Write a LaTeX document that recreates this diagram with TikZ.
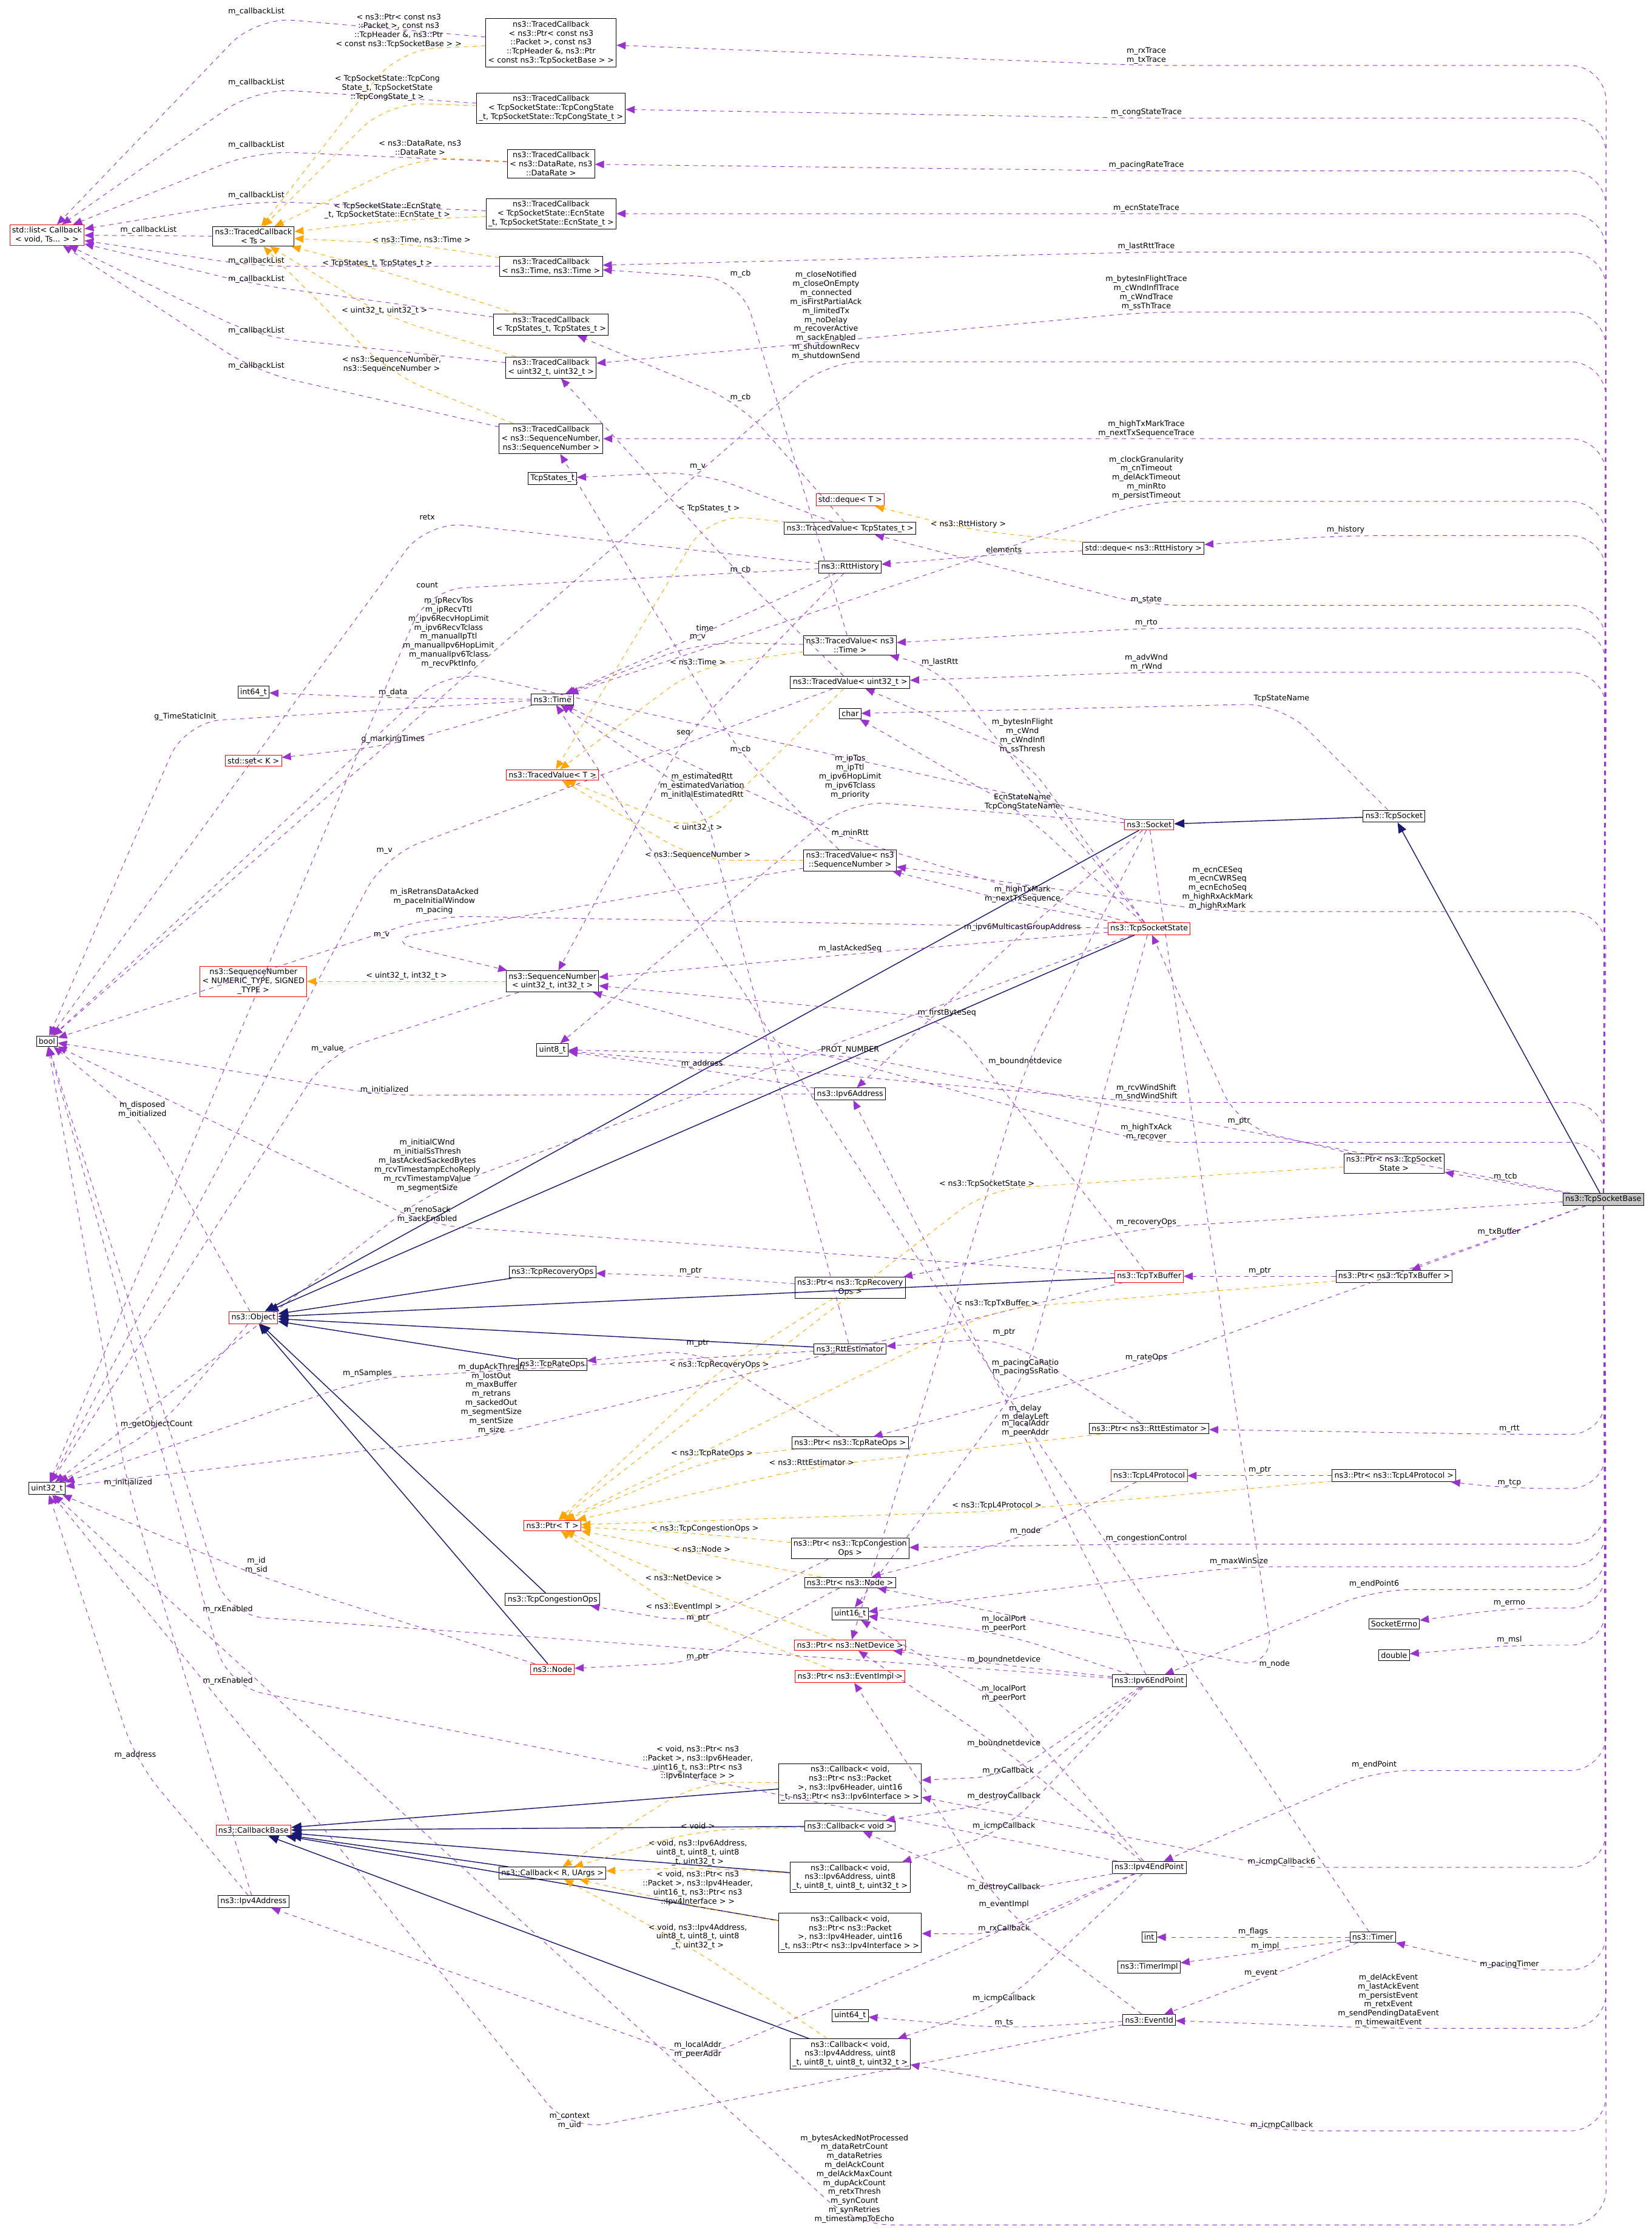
\documentclass[tikz,border=0pt]{standalone}
\usepackage{fontspec}
\setmainfont{DejaVu Sans}
\usetikzlibrary{arrows}
\definecolor{memc}{HTML}{9A32CD}
\definecolor{tplc}{HTML}{FFA500}
\definecolor{inhc}{HTML}{191970}
\tikzset{x=0.0345cm, y=-0.0345cm,
    every node/.style={font=\fontsize{5.3}{6.2}\selectfont},
    cls/.style={draw, align=center, fill=white, inner sep=1.6pt, thin},
    redcls/.style={cls, draw=red},
    main/.style={cls, fill=gray!45},
    mem/.style={draw=memc, dashed, ->, >=triangle 45, thin, rounded corners=25},
    tpl/.style={draw=tplc, dashed, ->, >=triangle 45, thin, rounded corners=25},
    inh/.style={draw=inhc, semithick, ->, >=triangle 45},
    lab/.style={align=center, inner sep=1pt, fill=none}}
% edge through a labelled bend point
\newcommand{\via}[5]{\draw[#1] (#2) -- (#4) node[lab,above] {#5} -- (#3);}
% edge from the socket, up or down its right side first
\newcommand{\fromb}[4]{\draw[mem] (base) -- (1128,#2) -- (#3,#2) node[lab,above] {#4} -- (#1);}

\begin{document}
\begin{tikzpicture}
    \useasboundingbox (0,0) rectangle (1160,1567);

    % classes
    \node[main] (base) at (1126,842) {ns3::TcpSocketBase};
    \node[cls] (tcpkt) at (387,30) {ns3::TracedCallback\\< ns3::Ptr< const ns3\\::Packet >, const ns3\\::TcpHeader \&, ns3::Ptr\\< const ns3::TcpSocketBase > >};
    \node[cls] (tccong) at (387,76) {ns3::TracedCallback\\< TcpSocketState::TcpCongState\\\_t, TcpSocketState::TcpCongState\_t >};
    \node[cls] (tcrate) at (387,115) {ns3::TracedCallback\\< ns3::DataRate, ns3\\::DataRate >};
    \node[cls] (tcecn) at (387,150) {ns3::TracedCallback\\< TcpSocketState::EcnState\\\_t, TcpSocketState::EcnState\_t >};
    \node[cls] (tctime) at (387,187) {ns3::TracedCallback\\< ns3::Time, ns3::Time >};
    \node[cls] (tcstate) at (387,228) {ns3::TracedCallback\\< TcpStates\_t, TcpStates\_t >};
    \node[cls] (tcu32) at (387,258) {ns3::TracedCallback\\< uint32\_t, uint32\_t >};
    \node[cls] (tcseq) at (387,308) {ns3::TracedCallback\\< ns3::SequenceNumber,\\ ns3::SequenceNumber >};
    \node[redcls] (cblist) at (33,165) {std::list< Callback\\< void, Ts... > >};
    \node[cls] (tcts) at (178,166) {ns3::TracedCallback\\< Ts >};
    \node[cls] (states) at (388,336) {TcpStates\_t};
    \node[redcls] (deque) at (597,351) {std::deque< T >};
    \node[cls] (tvstates) at (597,371) {ns3::TracedValue< TcpStates\_t >};
    \node[cls] (dequertt) at (803,385) {std::deque< ns3::RttHistory >};
    \node[cls] (rtthist) at (597,398) {ns3::RttHistory};
    \node[cls] (tvtime) at (597,453) {ns3::TracedValue< ns3\\::Time >};
    \node[cls] (tvu32) at (597,479) {ns3::TracedValue< uint32\_t >};
    \node[cls] (char) at (597,501) {char};
    \node[cls] (int64) at (178,486) {int64\_t};
    \node[cls] (time) at (388,491) {ns3::Time};
    \node[redcls] (set) at (178,534) {std::set< K >};
    \node[redcls] (tvt) at (388,544) {ns3::TracedValue< T >};
    \node[cls] (tvseq) at (597,604) {ns3::TracedValue< ns3\\::SequenceNumber >};
    \node[redcls] (socket) at (807,579) {ns3::Socket};
    \node[cls] (tcpsocket) at (979,573) {ns3::TcpSocket};
    \node[redcls] (tcb) at (807,652) {ns3::TcpSocketState};
    \node[redcls] (seqnt) at (178,689) {ns3::SequenceNumber\\< NUMERIC\_TYPE, SIGNED\\\_TYPE >};
    \node[cls] (seq32) at (388,689) {ns3::SequenceNumber\\< uint32\_t, int32\_t >};
    \node[cls] (bool) at (33,731) {bool};
    \node[cls] (uint8) at (388,737) {uint8\_t};
    \node[cls] (ip6addr) at (597,768) {ns3::Ipv6Address};
    \node[cls] (ptrtcb) at (979,817) {ns3::Ptr< ns3::TcpSocket\\State >};
    \node[cls] (recops) at (388,893) {ns3::TcpRecoveryOps};
    \node[cls] (ptrrec) at (597,904) {ns3::Ptr< ns3::TcpRecovery\\Ops >};
    \node[redcls] (txbuf) at (807,896) {ns3::TcpTxBuffer};
    \node[cls] (ptrtx) at (979,896) {ns3::Ptr< ns3::TcpTxBuffer >};
    \node[redcls] (object) at (178,925) {ns3::Object};
    \node[cls] (rateops) at (388,958) {ns3::TcpRateOps};
    \node[cls] (rttest) at (597,947) {ns3::RttEstimator};
    \node[cls] (ptrrtt) at (807,1003) {ns3::Ptr< ns3::RttEstimator >};
    \node[cls] (ptrrate) at (597,1013) {ns3::Ptr< ns3::TcpRateOps >};
    \node[cls] (uint32) at (33,1045) {uint32\_t};
    \node[redcls] (ptrt) at (388,1071) {ns3::Ptr< T >};
    \node[cls] (ptrl4) at (979,1036) {ns3::Ptr< ns3::TcpL4Protocol >};
    \node[redcls] (l4) at (807,1036) {ns3::TcpL4Protocol};
    \node[cls] (ptrcong) at (597,1087) {ns3::Ptr< ns3::TcpCongestion\\Ops >};
    \node[cls] (congops) at (388,1123) {ns3::TcpCongestionOps};
    \node[cls] (ptrnode) at (597,1111) {ns3::Ptr< ns3::Node >};
    \node[redcls] (node) at (388,1172) {ns3::Node};
    \node[cls] (uint16) at (597,1133) {uint16\_t};
    \node[cls] (errno) at (979,1140) {SocketErrno};
    \node[cls] (double) at (979,1162) {double};
    \node[redcls] (ptrdev) at (597,1155) {ns3::Ptr< ns3::NetDevice >};
    \node[redcls] (ptrev) at (597,1177) {ns3::Ptr< ns3::EventImpl >};
    \node[cls] (ep6) at (807,1180) {ns3::Ipv6EndPoint};
    \node[cls] (cb6pkt) at (597,1252) {ns3::Callback< void,\\ ns3::Ptr< ns3::Packet\\ >, ns3::Ipv6Header, uint16\\\_t, ns3::Ptr< ns3::Ipv6Interface > >};
    \node[cls] (cbvoid) at (597,1282) {ns3::Callback< void >};
    \node[redcls] (cbbase) at (178,1285) {ns3::CallbackBase};
    \node[cls] (cbr) at (388,1315) {ns3::Callback< R, UArgs >};
    \node[cls] (ip4addr) at (178,1335) {ns3::Ipv4Address};
    \node[cls] (cb6) at (597,1318) {ns3::Callback< void,\\ ns3::Ipv6Address, uint8\\\_t, uint8\_t, uint8\_t, uint32\_t >};
    \node[cls] (ep4) at (807,1311) {ns3::Ipv4EndPoint};
    \node[cls] (cb4pkt) at (597,1357) {ns3::Callback< void,\\ ns3::Ptr< ns3::Packet\\ >, ns3::Ipv4Header, uint16\\\_t, ns3::Ptr< ns3::Ipv4Interface > >};
    \node[cls] (int) at (807,1360) {int};
    \node[cls] (timer) at (964,1360) {ns3::Timer};
    \node[cls] (timerimpl) at (807,1381) {ns3::TimerImpl};
    \node[cls] (uint64) at (597,1415) {uint64\_t};
    \node[cls] (eventid) at (807,1418) {ns3::EventId};
    \node[cls] (cb4) at (597,1442) {ns3::Callback< void,\\ ns3::Ipv4Address, uint8\\\_t, uint8\_t, uint8\_t, uint32\_t >};

    % inheritance
    \draw[inh] (base) -- (tcpsocket);
    \draw[inh] (tcpsocket) -- (socket);
    \foreach \s in {socket,tcb,txbuf,rttest,recops,rateops,congops,node}
        \draw[inh] (\s) -- (object);
    \foreach \s in {cbr,cb6pkt,cbvoid,cb6,cb4pkt,cb4}
        \draw[inh] (\s) -- (cbbase);

    % members of the socket
    \fromb{tcpkt}{46}{805}{m\_rxTrace\\m\_txTrace}
    \fromb{tccong}{83}{805}{m\_congStateTrace}
    \fromb{tcrate}{120}{805}{m\_pacingRateTrace}
    \fromb{tcecn}{150}{805}{m\_ecnStateTrace}
    \fromb{tctime}{177}{805}{m\_lastRttTrace}
    \fromb{tcu32}{219}{805}{m\_bytesInFlightTrace\\m\_cWndInflTrace\\m\_cWndTrace\\m\_ssThTrace}
    \fromb{tcseq}{308}{805}{m\_highTxMarkTrace\\m\_nextTxSequenceTrace}
    \fromb{bool}{254}{580}{m\_closeNotified\\m\_closeOnEmpty\\m\_connected\\m\_isFirstPartialAck\\m\_limitedTx\\m\_noDelay\\m\_recoverActive\\m\_sackEnabled\\m\_shutdownRecv\\m\_shutdownSend}
    \fromb{time}{352}{805}{m\_clockGranularity\\m\_cnTimeout\\m\_delAckTimeout\\m\_minRto\\m\_persistTimeout}
    \fromb{dequertt}{376}{945}{m\_history}
    \fromb{tvstates}{425}{805}{m\_state}
    \fromb{tvtime}{441}{805}{m\_rto}
    \fromb{tvu32}{472}{805}{m\_advWnd\\m\_rWnd}
    \fromb{tvseq}{640}{855}{m\_ecnCESeq\\m\_ecnCWRSeq\\m\_ecnEchoSeq\\m\_highRxAckMark\\m\_highRxMark}
    \fromb{uint8}{774}{805}{m\_rcvWindShift\\m\_sndWindShift}
    \fromb{seq32}{802}{805}{m\_highTxAck\\m\_recover}
    \draw[mem] (base) -- node[lab,above] {m\_tcb} (ptrtcb);
    \via{mem}{base}{ptrrec}{805,862}{m\_recoveryOps}
    \draw[mem] (base) -- node[lab,above] {m\_txBuffer} (ptrtx);
    \via{mem}{base}{ptrrate}{805,957}{m\_rateOps}
    \fromb{ptrrtt}{1007}{1060}{m\_rtt}
    \fromb{ptrl4}{1045}{1060}{m\_tcp}
    \fromb{ptrcong}{1084}{805}{m\_congestionControl}
    \fromb{uint16}{1100}{870}{m\_maxWinSize}
    \fromb{ep6}{1116}{965}{m\_endPoint6}
    \fromb{errno}{1129}{1060}{m\_errno}
    \fromb{double}{1155}{1060}{m\_msl}
    \fromb{ep4}{1243}{965}{m\_endPoint}
    \fromb{cb6pkt}{1311}{900}{m\_icmpCallback6}
    \fromb{timer}{1383}{1060}{m\_pacingTimer}
    \fromb{eventid}{1424}{975}{m\_delAckEvent\\m\_lastAckEvent\\m\_persistEvent\\m\_retxEvent\\m\_sendPendingDataEvent\\m\_timewaitEvent}
    \fromb{cb4}{1496}{900}{m\_icmpCallback}
    \fromb{uint32}{1562}{600}{m\_bytesAckedNotProcessed\\m\_dataRetrCount\\m\_dataRetries\\m\_delAckCount\\m\_delAckMaxCount\\m\_dupAckCount\\m\_retxThresh\\m\_synCount\\m\_synRetries\\m\_timestampToEcho}
    \via{mem}{base}{uint8}{597,741}{PROT\_NUMBER}

    % traced callbacks
    \via{mem}{tcpkt}{cblist}{180,12}{m\_callbackList}
    \via{mem}{tccong}{cblist}{180,62}{m\_callbackList}
    \via{mem}{tcrate}{cblist}{180,106}{m\_callbackList}
    \via{mem}{tcecn}{cblist}{180,141}{m\_callbackList}
    \via{mem}{tctime}{cblist}{180,187}{m\_callbackList}
    \via{mem}{tcstate}{cblist}{180,200}{m\_callbackList}
    \via{mem}{tcu32}{cblist}{180,236}{m\_callbackList}
    \via{mem}{tcseq}{cblist}{180,261}{m\_callbackList}
    \draw[mem] (tcts) -- node[lab,above] {m\_callbackList} (cblist);
    \via{tpl}{tcpkt}{tcts}{280,35}{< ns3::Ptr< const ns3\\::Packet >, const ns3\\::TcpHeader \&, ns3::Ptr\\< const ns3::TcpSocketBase > >}
    \via{tpl}{tccong}{tcts}{272,72}{< TcpSocketState::TcpCong\\State\_t, TcpSocketState\\::TcpCongState\_t >}
    \via{tpl}{tcrate}{tcts}{295,110}{< ns3::DataRate, ns3\\::DataRate >}
    \via{tpl}{tcecn}{tcts}{272,155}{< TcpSocketState::EcnState\\\_t, TcpSocketState::EcnState\_t >}
    \via{tpl}{tctime}{tcts}{296,172}{< ns3::Time, ns3::Time >}
    \via{tpl}{tcstate}{tcts}{265,189}{< TcpStates\_t, TcpStates\_t >}
    \via{tpl}{tcu32}{tcts}{270,222}{< uint32\_t, uint32\_t >}
    \via{tpl}{tcseq}{tcts}{275,263}{< ns3::SequenceNumber,\\ ns3::SequenceNumber >}

    % traced values
    \via{tpl}{tvstates}{tvt}{498,361}{< TcpStates\_t >}
    \via{tpl}{tvtime}{tvt}{490,468}{< ns3::Time >}
    \via{tpl}{tvu32}{tvt}{490,585}{< uint32\_t >}
    \via{tpl}{tvseq}{tvt}{490,604}{< ns3::SequenceNumber >}
    \via{mem}{tvstates}{states}{490,331}{m\_v}
    \via{mem}{tvtime}{time}{490,451}{m\_v}
    \via{mem}{tvu32}{uint32}{270,601}{m\_v}
    \via{mem}{tvseq}{seq32}{268,660}{m\_v}
    \via{mem}{tvtime}{tctime}{520,196}{m\_cb}
    \via{mem}{tvstates}{tcstate}{520,283}{m\_cb}
    \via{mem}{tvu32}{tcu32}{520,404}{m\_cb}
    \via{mem}{tvseq}{tcseq}{520,530}{m\_cb}

    % history and time
    \via{tpl}{dequertt}{deque}{680,372}{< ns3::RttHistory >}
    \via{mem}{dequertt}{rtthist}{705,389}{elements}
    \via{mem}{rtthist}{time}{495,444}{time}
    \via{mem}{rtthist}{seq32}{480,518}{seq}
    \via{mem}{rtthist}{uint32}{300,414}{count}
    \via{mem}{rtthist}{bool}{300,366}{retx}
    \via{mem}{time}{int64}{276,490}{m\_data}
    \via{mem}{time}{set}{276,523}{g\_markingTimes}
    \via{mem}{time}{bool}{130,507}{g\_TimeStaticInit}

    % socket state
    \via{mem}{tcpsocket}{char}{900,494}{TcpStateName}
    \via{mem}{socket}{bool}{315,470}{m\_ipRecvTos\\m\_ipRecvTtl\\m\_ipv6RecvHopLimit\\m\_ipv6RecvTclass\\m\_manualIpTtl\\m\_manualIpv6HopLimit\\m\_manualIpv6Tclass\\m\_recvPktInfo}
    \via{mem}{socket}{uint8}{597,562}{m\_ipTos\\m\_ipTtl\\m\_ipv6HopLimit\\m\_ipv6Tclass\\m\_priority}
    \via{mem}{socket}{ptrdev}{720,749}{m\_boundnetdevice}
    \via{mem}{socket}{ptrnode}{895,1172}{m\_node}
    \via{mem}{socket}{ip6addr}{718,655}{m\_ipv6MulticastGroupAddress}
    \via{mem}{tcb}{tvu32}{718,530}{m\_bytesInFlight\\m\_cWnd\\m\_cWndInfl\\m\_ssThresh}
    \via{mem}{tcb}{char}{718,570}{EcnStateName\\TcpCongStateName}
    \via{mem}{tcb}{tvtime}{660,469}{m\_lastRtt}
    \via{mem}{tcb}{time}{597,589}{m\_minRtt}
    \via{mem}{tcb}{tvseq}{718,635}{m\_highTxMark\\m\_nextTxSequence}
    \via{mem}{tcb}{seq32}{597,670}{m\_lastAckedSeq}
    \via{mem}{tcb}{uint32}{300,838}{m\_initialCWnd\\m\_initialSsThresh\\m\_lastAckedSackedBytes\\m\_rcvTimestampEchoReply\\m\_rcvTimestampValue\\m\_segmentSize}
    \via{mem}{tcb}{bool}{305,643}{m\_isRetransDataAcked\\m\_paceInitialWindow\\m\_pacing}
    \via{mem}{tcb}{uint16}{720,967}{m\_pacingCaRatio\\m\_pacingSsRatio}

    % sequence numbers and addresses
    \draw[tpl] (seq32) -- node[lab,above] {< uint32\_t, int32\_t >} (seqnt);
    \via{mem}{seq32}{uint32}{230,740}{m\_value}
    \via{mem}{ip6addr}{uint8}{493,751}{m\_address}
    \via{mem}{ip6addr}{bool}{270,769}{m\_initialized}
    \via{mem}{ip4addr}{uint32}{95,1236}{m\_address}
    \via{mem}{ip4addr}{bool}{90,1045}{m\_initialized}
    \via{mem}{object}{bool}{100,786}{m\_disposed\\m\_initialized}
    \via{mem}{object}{uint32}{110,1004}{m\_getObjectCount}
    \via{mem}{node}{uint32}{180,1106}{m\_id\\m\_sid}
    \via{mem}{rttest}{time}{493,562}{m\_estimatedRtt\\m\_estimatedVariation\\m\_initialEstimatedRtt}
    \via{mem}{rttest}{uint32}{258,968}{m\_nSamples}
    \via{mem}{txbuf}{uint32}{345,1008}{m\_dupAckThresh\\m\_lostOut\\m\_maxBuffer\\m\_retrans\\m\_sackedOut\\m\_segmentSize\\m\_sentSize\\m\_size}
    \via{mem}{txbuf}{seq32}{665,715}{m\_firstByteSeq}
    \via{mem}{txbuf}{bool}{300,860}{m\_renoSack\\m\_sackEnabled}
    \via{mem}{timer}{time}{720,999}{m\_delay\\m\_delayLeft}

    % pointers
    \via{tpl}{ptrtcb}{ptrt}{693,835}{< ns3::TcpSocketState >}
    \via{tpl}{ptrtx}{ptrt}{700,919}{< ns3::TcpTxBuffer >}
    \via{tpl}{ptrrec}{ptrt}{505,962}{< ns3::TcpRecoveryOps >}
    \via{tpl}{ptrrate}{ptrt}{500,1024}{< ns3::TcpRateOps >}
    \via{tpl}{ptrrtt}{ptrt}{570,1030}{< ns3::RttEstimator >}
    \via{tpl}{ptrl4}{ptrt}{700,1061}{< ns3::TcpL4Protocol >}
    \via{tpl}{ptrcong}{ptrt}{495,1077}{< ns3::TcpCongestionOps >}
    \via{tpl}{ptrnode}{ptrt}{493,1091}{< ns3::Node >}
    \via{tpl}{ptrdev}{ptrt}{480,1111}{< ns3::NetDevice >}
    \via{tpl}{ptrev}{ptrt}{480,1132}{< ns3::EventImpl >}
    \via{mem}{ptrtcb}{tcb}{870,791}{m\_ptr}
    \draw[mem] (ptrtx) -- node[lab,above] {m\_ptr} (txbuf);
    \via{mem}{ptrrec}{recops}{485,896}{m\_ptr}
    \via{mem}{ptrrtt}{rttest}{705,939}{m\_ptr}
    \via{mem}{ptrrate}{rateops}{490,947}{m\_ptr}
    \draw[mem] (ptrl4) -- node[lab,above] {m\_ptr} (l4);
    \via{mem}{ptrcong}{congops}{490,1140}{m\_ptr}
    \via{mem}{ptrnode}{node}{490,1167}{m\_ptr}
    \via{mem}{l4}{ptrnode}{720,1079}{m\_node}

    % end points
    \via{mem}{ep6}{ip6addr}{720,1010}{m\_localAddr\\m\_peerAddr}
    \via{mem}{ep6}{uint16}{705,1147}{m\_localPort\\m\_peerPort}
    \via{mem}{ep6}{ptrdev}{705,1169}{m\_boundnetdevice}
    \via{mem}{ep6}{bool}{160,1134}{m\_rxEnabled}
    \via{mem}{ep6}{cb6pkt}{708,1247}{m\_rxCallback}
    \via{mem}{ep6}{cbvoid}{705,1265}{m\_destroyCallback}
    \via{mem}{ep6}{cb6}{705,1286}{m\_icmpCallback}
    \via{mem}{ep4}{ip4addr}{490,1446}{m\_localAddr\\m\_peerAddr}
    \via{mem}{ep4}{uint16}{705,1196}{m\_localPort\\m\_peerPort}
    \via{mem}{ep4}{ptrdev}{705,1228}{m\_boundnetdevice}
    \via{mem}{ep4}{bool}{160,1184}{m\_rxEnabled}
    \via{mem}{ep4}{cb4pkt}{705,1358}{m\_rxCallback}
    \via{mem}{ep4}{cbvoid}{705,1329}{m\_destroyCallback}
    \via{mem}{ep4}{cb4}{705,1407}{m\_icmpCallback}

    % callbacks
    \via{tpl}{cb6pkt}{cbr}{490,1251}{< void, ns3::Ptr< ns3\\::Packet >, ns3::Ipv6Header,\\ uint16\_t, ns3::Ptr< ns3\\::Ipv6Interface > >}
    \via{tpl}{cbvoid}{cbr}{490,1285}{< void >}
    \via{tpl}{cb6}{cbr}{490,1311}{< void, ns3::Ipv6Address,\\ uint8\_t, uint8\_t, uint8\\\_t, uint32\_t >}
    \via{tpl}{cb4pkt}{cbr}{490,1339}{< void, ns3::Ptr< ns3\\::Packet >, ns3::Ipv4Header,\\ uint16\_t, ns3::Ptr< ns3\\::Ipv4Interface > >}
    \via{tpl}{cb4}{cbr}{490,1370}{< void, ns3::Ipv4Address,\\ uint8\_t, uint8\_t, uint8\\\_t, uint32\_t >}

    % timer and events
    \draw[mem] (timer) -- node[lab,above] {m\_flags} (int);
    \draw[mem] (timer) -- node[lab,above] {m\_impl} (timerimpl);
    \draw[mem] (timer) -- node[lab,above] {m\_event} (eventid);
    \via{mem}{eventid}{ptrev}{705,1341}{m\_eventImpl}
    \via{mem}{eventid}{uint64}{705,1424}{m\_ts}
    \via{mem}{eventid}{uint32}{400,1496}{m\_context\\m\_uid}
\end{tikzpicture}
\end{document}
